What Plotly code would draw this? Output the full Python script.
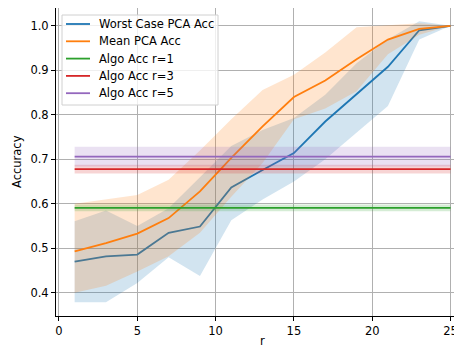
import plotly.graph_objects as go

# ---- data ----
r_vals = [1, 3, 5, 7, 9, 11, 13, 15, 17, 19, 21, 23, 25]
worst_acc = [0.470, 0.482, 0.486, 0.535, 0.549, 0.637, 0.676, 0.714, 0.785, 0.847, 0.908, 0.990, 1.000]
worst_lo = [0.379, 0.379, 0.422, 0.480, 0.438, 0.563, 0.610, 0.650, 0.700, 0.760, 0.820, 0.969, 1.000]
worst_hi = [0.561, 0.585, 0.550, 0.590, 0.660, 0.730, 0.766, 0.793, 0.845, 0.916, 0.970, 1.010, 1.000]
mean_acc = [0.493, 0.512, 0.533, 0.568, 0.628, 0.703, 0.774, 0.840, 0.877, 0.925, 0.969, 0.993, 1.000]
mean_lo = [0.400, 0.416, 0.448, 0.482, 0.535, 0.616, 0.692, 0.790, 0.814, 0.853, 0.936, 0.980, 1.000]
mean_hi = [0.600, 0.610, 0.620, 0.654, 0.720, 0.790, 0.856, 0.890, 0.940, 0.997, 1.002, 1.006, 1.000]
algo_names = ["Algo Acc r=1", "Algo Acc r=3", "Algo Acc r=5"]
algo_acc = [0.591, 0.678, 0.706]
algo_std = [0.0075, 0.010, 0.022]
series_names = ["Worst Case PCA Acc", "Mean PCA Acc"] + algo_names
colors = ["#1f77b4", "#ff7f0e", "#2ca02c", "#d62728", "#9467bd"]
band_colors = ["rgba(31,119,180,0.2)", "rgba(255,127,14,0.2)", "rgba(44,160,44,0.2)",
               "rgba(214,39,40,0.2)", "rgba(148,103,189,0.2)"]
x_ticks = [0, 5, 10, 15, 20, 25]
y_ticks = [0.4, 0.5, 0.6, 0.7, 0.8, 0.9, 1.0]

# page is offset by the 8px body margin; lay out in page pixels
OFF = 8
W, H = 462 - OFF, 349 - OFF
PLOT_L, PLOT_T, PLOT_B = 56, 8, 316
L, T, B, R = PLOT_L - OFF, PLOT_T - OFF, 349 - PLOT_B, 0
PW, PH = W - L - R, H - T - B
FS = 11.5

fig = go.Figure()


def add_band(x, lo, hi, band):
    fig.add_trace(go.Scatter(x=list(x) + list(x)[::-1], y=list(hi) + list(lo)[::-1], fill="toself",
                             fillcolor=band, line=dict(width=0), mode="lines",
                             hoverinfo="skip", showlegend=False))


def add_line(x, y, color, name):
    fig.add_trace(go.Scatter(x=x, y=y, mode="lines", line=dict(color=color, width=1.8),
                             name=name, showlegend=False))


add_line(r_vals, worst_acc, colors[0], series_names[0])
add_band(r_vals, worst_lo, worst_hi, band_colors[0])
add_line(r_vals, mean_acc, colors[1], series_names[1])
add_band(r_vals, mean_lo, mean_hi, band_colors[1])
for i, (a, s) in enumerate(zip(algo_acc, algo_std)):
    n = len(r_vals)
    add_line(r_vals, [a] * n, colors[2 + i], series_names[2 + i])
    add_band(r_vals, [a - s] * n, [a + s] * n, band_colors[2 + i])


def px_x(p):
    return (p - PLOT_L) / PW


def px_y(p):
    return (PLOT_B - p) / PH


shapes = []
annotations = []
# legend box
shapes.append(dict(type="rect", xref="paper", yref="paper", x0=px_x(62), x1=px_x(218),
                   y0=px_y(105), y1=px_y(15), fillcolor="rgba(255,255,255,0.8)",
                   line=dict(color="#d0d0d0", width=1), layer="above"))
for i, name in enumerate(series_names):
    yy = px_y(24 + i * 17.3)
    shapes.append(dict(type="line", xref="paper", yref="paper", x0=px_x(66), x1=px_x(90),
                       y0=yy, y1=yy, line=dict(color=colors[i], width=1.8), layer="above"))
    annotations.append(dict(xref="paper", yref="paper", x=px_x(97), y=yy, text=name,
                            showarrow=False, xanchor="left", yanchor="middle",
                            font=dict(size=FS, color="#000000")))

annotations.append(dict(xref="paper", yref="paper", x=px_x(17), y=0.5, text="Accuracy",
                        textangle=-90, showarrow=False, xanchor="center", yanchor="middle",
                        font=dict(size=FS, color="#000000")))
annotations.append(dict(xref="paper", yref="paper", x=px_x(262.5), y=px_y(341), text="r",
                        showarrow=False, xanchor="center", yanchor="middle",
                        font=dict(size=FS, color="#000000")))

fig.update_layout(
    width=W, height=H, margin=dict(l=L, r=R, t=T, b=B, pad=0),
    paper_bgcolor="white", plot_bgcolor="white",
    font=dict(family="DejaVu Sans", size=FS, color="#000000"),
    showlegend=False, shapes=shapes, annotations=annotations,
    xaxis=dict(range=[-0.19, 25.73], tickvals=x_ticks, ticktext=[str(v) for v in x_ticks],
               showgrid=True, gridcolor="#b0b0b0", gridwidth=1, zeroline=False,
               showline=True, linecolor="#000000", linewidth=1, mirror=True,
               ticks="outside", ticklen=4, tickcolor="#000000", tickwidth=1),
    yaxis=dict(range=[0.348, 1.040], tickvals=y_ticks, ticktext=[f"{v:.1f}" for v in y_ticks],
               showgrid=True, gridcolor="#b0b0b0", gridwidth=1, zeroline=False,
               showline=True, linecolor="#000000", linewidth=1,
               ticks="outside", ticklen=4, tickcolor="#000000", tickwidth=1),
)

fig.write_html("out.html")
